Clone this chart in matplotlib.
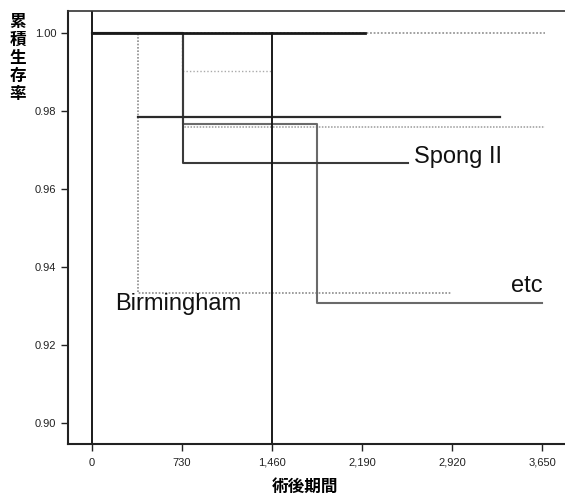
import numpy as np
import matplotlib
matplotlib.use('Agg')
import matplotlib.pyplot as plt
from matplotlib.ticker import FuncFormatter

plt.rcParams['font.family'] = ['Liberation Sans', 'Noto Sans CJK JP', 'DejaVu Sans']

# 生存曲線 (術後日数, 累積生存率) - 階段状
spong_t = [0, 738, 2563]
spong_s = [1.000, 0.9667, 0.9667]

birm_t = [0, 373, 2920]
birm_s = [1.000, 0.9333, 0.9333]

etc_t = [0, 740, 1825, 3650]
etc_s = [1.000, 0.9767, 0.9308, 0.9308]

# その他の曲線
top_solid_t = [0, 2214]
top_solid_s = [1.000, 1.000]

top_dot_t = [0, 3674]
top_dot_s = [1.000, 1.000]

mid_dot_t = [0, 730, 1460]
mid_dot_s = [1.000, 0.9903, 0.9903]

low_dot_t = [0, 738, 3674]
low_dot_s = [1.000, 0.9758, 0.9758]

dark_t = [373, 3309]
dark_s = [0.9785, 0.9785]

ref_days = [0, 1460]

x_ticks = [0, 730, 1460, 2190, 2920, 3650]
y_ticks = [0.90, 0.92, 0.94, 0.96, 0.98, 1.00]

fig = plt.figure(figsize=(5.65, 4.96), dpi=100)
ax = fig.add_axes([68 / 565, 1 - 444 / 496, 1 - 68 / 565, (444 - 11) / 496])

ax.set_xlim(-195, 3836)
ax.set_ylim(0.89462, 1.00564)

# 薄い点線
ax.plot(top_dot_t, top_dot_s, drawstyle='steps-post', color='#9a9a9a', lw=1.3, ls=(0, (1, 1)))
ax.plot(mid_dot_t, mid_dot_s, drawstyle='steps-post', color='#aaaaaa', lw=1.0, ls=(0, (1, 1.5)))
ax.plot(low_dot_t, low_dot_s, drawstyle='steps-post', color='#9a9a9a', lw=1.1, ls=(0, (1, 1)))
ax.plot(birm_t, birm_s, drawstyle='steps-post', color='#8c8c8c', lw=1.2, ls=(0, (1, 1)))

# 中間・濃い線
ax.plot(etc_t, etc_s, drawstyle='steps-post', color='#6a6a6a', lw=1.5)
ax.plot(spong_t, spong_s, drawstyle='steps-post', color='#3a3a3a', lw=1.5)
ax.plot(dark_t, dark_s, color='#2a2a2a', lw=1.6)
ax.plot(top_solid_t, top_solid_s, color='#1a1a1a', lw=2.0)

# 基準線
ax.axvline(ref_days[0], color='#1a1a1a', lw=1.4)
ax.plot([ref_days[1], ref_days[1]], [1.0, 0.89462], color='#1a1a1a', lw=1.4)

ax.text(2610, 0.9682, 'Spong II', fontsize=17, ha='left', va='center', color='#111111')
ax.text(185, 0.9305, 'Birmingham', fontsize=17, ha='left', va='center', color='#111111')
ax.text(3655, 0.9352, 'etc', fontsize=17, ha='right', va='center', color='#111111')

ax.set_xticks(x_ticks)
ax.set_yticks(y_ticks)
ax.xaxis.set_major_formatter(FuncFormatter(lambda v, p: f'{int(v):,}'))
ax.yaxis.set_major_formatter(FuncFormatter(lambda v, p: f'{v:.2f}'))
ax.tick_params(axis='both', labelsize=8, direction='out', length=5, width=1.0, colors='#222222')
ax.tick_params(axis='x', pad=5)

ax.spines['right'].set_visible(False)
for side in ['left', 'bottom']:
    ax.spines[side].set_linewidth(1.5)
    ax.spines[side].set_color('#222222')
ax.spines['top'].set_linewidth(1.2)
ax.spines['top'].set_color('#333333')

fig.text(305 / 565, 1 - 487 / 496, '術後期間', ha='center', va='center', fontsize=12,
         fontweight='bold', family=['Noto Sans CJK JP', 'DejaVu Sans'])
fig.text(18 / 565, 1 - 58 / 496, '累\n積\n生\n存\n率', ha='center', va='center', fontsize=12,
         fontweight='bold', linespacing=1.0, family=['Noto Sans CJK JP', 'DejaVu Sans'])

fig.savefig('out.png', dpi=100)
